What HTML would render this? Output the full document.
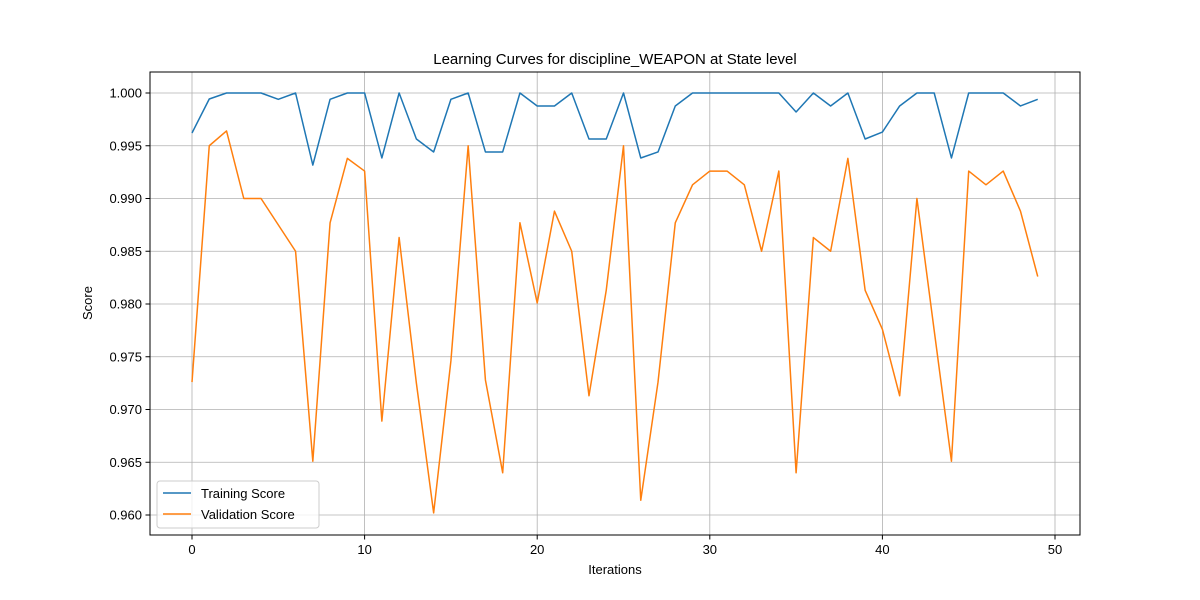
<!DOCTYPE html>
<html><head><meta charset="utf-8"><style>
body{margin:0;background:#fff;}
svg{display:block;font-family:"Liberation Sans","DejaVu Sans",sans-serif;}
</style></head><body>
<svg id="chart" width="1200" height="600" xmlns="http://www.w3.org/2000/svg">
<rect width="1200" height="600" fill="#fff"/>
<text x="615" y="64" text-anchor="middle" font-size="15">Learning Curves for discipline_WEAPON at State level</text>
<text x="615" y="574" text-anchor="middle" font-size="13">Iterations</text>
<text x="92" y="303" text-anchor="middle" font-size="13" transform="rotate(-90 92 303)">Score</text>
<g id="grid"></g><g id="ticks"></g><g id="series"></g>
<rect x="150" y="72" width="930" height="463" fill="none" stroke="#000" stroke-width="1"/>
<g>
<rect x="157" y="481" width="162" height="47" rx="3" fill="#fff" fill-opacity="0.8" stroke="#ccc"/>
<line x1="163" y1="493" x2="191" y2="493" stroke="#1f77b4" stroke-width="1.5"/>
<text x="201" y="498" font-size="13">Training Score</text>
<line x1="163" y1="514" x2="191" y2="514" stroke="#ff7f0e" stroke-width="1.5"/>
<text x="201" y="519" font-size="13">Validation Score</text>
</g>
</svg>
<script>
const iterations=[...Array(50).keys()];
const trainScores=[0.99621,0.99943,1,1,1,0.9994,1,0.99317,0.9994,1,1,0.99384,1,0.99564,0.99441,0.9994,1,0.99441,0.99441,1,0.99877,0.99877,1,0.99564,0.99564,1,0.99384,0.99441,0.99877,1,1,1,1,1,1,0.9982,1,0.99877,1,0.99564,0.9963,0.99877,1,1,0.99384,1,1,1,0.99877,0.9994];
const valScores=[0.9726,0.995,0.9964,0.990,0.990,0.9875,0.985,0.9651,0.9877,0.9938,0.9926,0.9689,0.9863,0.9725,0.9602,0.9746,0.995,0.9728,0.964,0.9877,0.9801,0.9888,0.985,0.9713,0.9813,0.995,0.9614,0.9726,0.9877,0.9913,0.9926,0.9926,0.9913,0.985,0.9926,0.964,0.9863,0.985,0.9938,0.9813,0.9776,0.9713,0.990,0.9775,0.9651,0.9926,0.9913,0.9926,0.9888,0.9826];
const xTicks=[0,10,20,30,40,50];
const yTicks=[0.960,0.965,0.970,0.975,0.980,0.985,0.990,0.995,1.000];
const NS="http://www.w3.org/2000/svg";
const xs=v=>192+v*17.26;
const ys=v=>93+(1-v)*10550;
function mk(tag,attrs,parent){const e=document.createElementNS(NS,tag);for(const k in attrs)e.setAttribute(k,attrs[k]);parent.appendChild(e);return e;}
const grid=document.getElementById('grid'),ticks=document.getElementById('ticks'),series=document.getElementById('series');
xTicks.forEach(t=>{const x=xs(t);
const g=mk('line',{x1:x,x2:x,y1:72,y2:535,stroke:'#b0b0b0','stroke-width':0.8},grid);


mk('line',{x1:x,x2:x,y1:535,y2:539.5,stroke:'#000'},ticks);
const l=mk('text',{x:x,y:554,'text-anchor':'middle','font-size':13},ticks);l.textContent=t;

});
yTicks.forEach(t=>{const y=ys(t);
const g=mk('line',{x1:150,x2:1080,y1:y,y2:y,stroke:'#b0b0b0','stroke-width':0.8},grid);


mk('line',{x1:145.5,x2:150,y1:y,y2:y,stroke:'#000'},ticks);
const l=mk('text',{x:142,y:y+4.5,'text-anchor':'end','font-size':13},ticks);l.textContent=t.toFixed(3);

});
function line(vals,color,name){const p=mk('polyline',{points:vals.map((v,i)=>xs(iterations[i])+','+ys(v)).join(' '),fill:'none',stroke:color,'stroke-width':1.5,'stroke-linejoin':'round'},series);

}
line(trainScores,'#1f77b4','training-score-line');
line(valScores,'#ff7f0e','validation-score-line');
</script>
</body></html>
